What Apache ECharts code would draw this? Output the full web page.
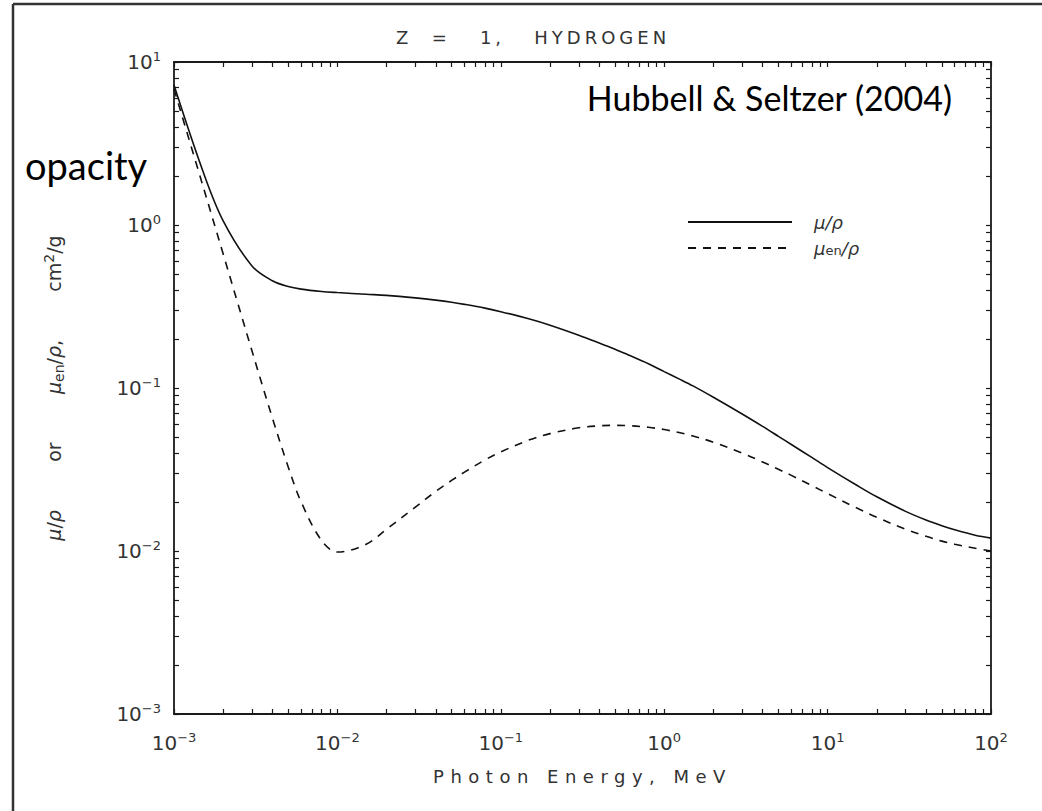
<!DOCTYPE html>
<html>
<head>
<meta charset="utf-8">
<script src="https://cdn.jsdelivr.net/npm/echarts@6/dist/echarts.min.js"></script>
<style>
  html, body { margin: 0; padding: 0; background: #fff; }
  #chart { width: 1042px; height: 811px; }
</style>
</head>
<body>
<div id="chart"></div>
<script>
// photon energy, MeV
const energy = [0.001, 0.0015, 0.002, 0.003, 0.004, 0.005, 0.006, 0.008, 0.01, 0.015, 0.02, 0.03, 0.04, 0.05, 0.06, 0.08,
  0.1, 0.15, 0.2, 0.3, 0.4, 0.5, 0.6, 0.8, 1, 1.25, 1.5, 2, 3, 4, 5, 6, 8, 10, 15, 20, 30, 40, 50, 60, 80, 100];
// mu/rho, cm2/g
const muRho = [7.22, 2.15, 1.06, 0.561, 0.455, 0.419, 0.404, 0.391, 0.385, 0.376, 0.370, 0.357, 0.346, 0.336, 0.326, 0.309,
  0.294, 0.265, 0.243, 0.211, 0.189, 0.173, 0.160, 0.141, 0.126, 0.113, 0.103, 0.0877, 0.0692, 0.0581, 0.0505, 0.0450, 0.0375,
  0.0325, 0.0254, 0.0215, 0.0175, 0.0155, 0.0143, 0.0135, 0.0125, 0.0120];
// mu_en/rho, cm2/g
const muEnRho = [6.82, 1.75, 0.664, 0.169, 0.0655, 0.0328, 0.0200, 0.0116, 0.00985, 0.0110, 0.0136, 0.0186, 0.0232, 0.0271, 0.0305, 0.0362,
  0.0406, 0.0481, 0.0525, 0.0570, 0.0586, 0.0590, 0.0588, 0.0574, 0.0556, 0.0531, 0.0508, 0.0465, 0.0399, 0.0352, 0.0317, 0.0291, 0.0252,
  0.0225, 0.0184, 0.0161, 0.0136, 0.0123, 0.0115, 0.0110, 0.0104, 0.0100];

const xDecades = [0.001, 0.01, 0.1, 1, 10, 100];
const yDecades = [0.001, 0.01, 0.1, 1, 10];
const seriesNames = ['μ/ρ', 'μen/ρ'];
const titleText = 'Z  =   1,   HYDROGEN';
const xName = 'Photon Energy, MeV';

// tick marks at 1..9 of every decade
function minorTicks(decades) {
  const out = [];
  decades.forEach(function (d, i) {
    if (i === decades.length - 1) { out.push(d); return; }
    for (let k = 1; k <= 9; k++) out.push(+(d * k).toPrecision(3));
  });
  return out;
}
const xTicks = minorTicks(xDecades);
const yTicks = minorTicks(yDecades);

const ink = '#1a1a1a';
const labelFont = 'DejaVu Sans';

function powLabel(v) {
  const n = Math.round(Math.log10(v));
  return '{b|10}{s|' + (n < 0 ? '\u2212' + (-n) : n) + '}';
}
const powRich = {
  b: { fontFamily: labelFont, fontSize: 20, color: '#333', lineHeight: 24 },
  s: { fontFamily: labelFont, fontSize: 13, color: '#333', lineHeight: 10, verticalAlign: 'top' }
};

function logAxis(extra) {
  return Object.assign({
    type: 'log',
    logBase: 10,
    axisLine: { show: true, lineStyle: { color: ink, width: 1.8 } },
    splitLine: { show: false },
    minorTick: { show: false }
  }, extra);
}

const chart = echarts.init(document.getElementById('chart'), null, { renderer: 'svg' });

const option = {
  animation: false,
  backgroundColor: '#fff',
  grid: { left: 174, top: 62, right: 51, bottom: 97, containLabel: false, outerBoundsMode: 'none' },
  xAxis: [
    logAxis({
      position: 'bottom', min: 0.001, max: 100,
      name: xName, nameLocation: 'middle', nameGap: 53,
      nameTextStyle: { fontFamily: labelFont, fontSize: 18, color: '#333' },
      axisTick: { show: true, inside: true, length: 5, customValues: xTicks, lineStyle: { color: ink, width: 1.2 } },
      axisLabel: { customValues: xDecades, margin: 17, formatter: powLabel, rich: powRich }
    }),
    logAxis({
      position: 'top', min: 0.001, max: 100,
      axisTick: { show: true, inside: true, length: 5, customValues: xTicks, lineStyle: { color: ink, width: 1.2 } },
      axisLabel: { show: false }
    })
  ],
  yAxis: [
    logAxis({
      position: 'left', min: 0.001, max: 10,
      name: '{i|μ}{r|/}{i|ρ}{r|        or        }{i|μ}{sub|en}{r|/}{i|ρ}{r|,        cm}{sup|2}{r|/g}',
      nameLocation: 'middle', nameRotate: 90, nameGap: 108,
      nameTextStyle: {
        rich: {
          r: { fontFamily: labelFont, fontSize: 19, color: '#333', lineHeight: 24 },
          i: { fontFamily: labelFont, fontStyle: 'italic', fontSize: 19, color: '#333', lineHeight: 24 },
          sub: { fontFamily: labelFont, fontSize: 14, color: '#333', lineHeight: 10, verticalAlign: 'bottom' },
          sup: { fontFamily: labelFont, fontSize: 14, color: '#333', lineHeight: 10, verticalAlign: 'top' }
        }
      },
      axisTick: { show: true, inside: true, length: 5, customValues: yTicks, lineStyle: { color: ink, width: 1.2 } },
      axisLabel: { customValues: yDecades, margin: 13, formatter: powLabel, rich: powRich }
    }),
    logAxis({
      position: 'right', min: 0.001, max: 10,
      axisTick: { show: true, inside: true, length: 5, customValues: yTicks, lineStyle: { color: ink, width: 1.2 } },
      axisLabel: { show: false }
    })
  ],
  legend: {
    orient: 'vertical',
    left: 682,
    top: 208,
    itemWidth: 104,
    itemHeight: 18,
    itemGap: 8,
    data: seriesNames,
    itemStyle: { opacity: 0 },
    formatter: function (name) {
      return name === 'μen/ρ' ? '{i|μ}{sub|en}{i|/ρ}' : '{i|μ/ρ}';
    },
    textStyle: {
      padding: [0, 0, 0, 17],
      rich: {
        i: { fontFamily: labelFont, fontStyle: 'italic', fontSize: 18, color: '#333', lineHeight: 18 },
        sub: { fontFamily: labelFont, fontSize: 13, color: '#333', lineHeight: 8, verticalAlign: 'bottom' }
      }
    }
  },
  graphic: [
    { type: 'line', shape: { x1: 13, y1: 4, x2: 13, y2: 811 }, style: { stroke: '#333', lineWidth: 2.5 } },
    { type: 'line', shape: { x1: 13, y1: 4, x2: 1042, y2: 4 }, style: { stroke: '#333', lineWidth: 2.5 } },
    {
      type: 'text', x: 533, y: 37,
      style: { text: titleText, textAlign: 'center', textVerticalAlign: 'middle', font: '18px "DejaVu Sans"', fill: '#333' }
    },
    {
      type: 'text', x: 952, y: 97,
      style: { text: 'Hubbell & Seltzer (2004)', textAlign: 'right', textVerticalAlign: 'middle', font: '34px Lato', fill: '#000' }
    },
    {
      type: 'text', x: 25, y: 165,
      style: { text: 'opacity', textAlign: 'left', textVerticalAlign: 'middle', font: '38px Lato', fill: '#000' }
    }
  ],
  series: [
    {
      name: seriesNames[0], type: 'line', xAxisIndex: 0, yAxisIndex: 0,
      symbol: 'none', showSymbol: false, smooth: 0.35,
      lineStyle: { color: '#111', width: 1.6, type: 'solid' },
      itemStyle: { color: '#111' },
      data: energy.map(function (e, i) { return [e, muRho[i]]; })
    },
    {
      name: seriesNames[1], type: 'line', xAxisIndex: 0, yAxisIndex: 0,
      symbol: 'none', showSymbol: false, smooth: 0.35,
      lineStyle: { color: '#111', width: 1.6, type: [8, 7] },
      itemStyle: { color: '#111' },
      data: energy.map(function (e, i) { return [e, muEnRho[i]]; })
    }
  ]
};

chart.setOption(option);

// wide letter spacing like the plotter font
setTimeout(function () {
  document.querySelectorAll('#chart text').forEach(function (t) {
    if (t.textContent === titleText) t.style.letterSpacing = '4px';
    if (t.textContent === xName) t.style.letterSpacing = '6.5px';
  });
}, 0);
</script>
</body>
</html>
